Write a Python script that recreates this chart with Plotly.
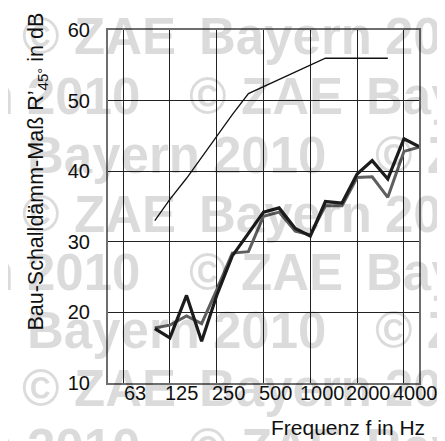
import math
import plotly.graph_objects as go

# third-octave band centre frequencies (Hz)
bands = [100, 125, 160, 200, 250, 315, 400, 500, 630, 800, 1000, 1250,
         1600, 2000, 2500, 3150, 4000, 5000]
# reference curve (ISO 717-1), 100 .. 3150 Hz
ref_bands = [100, 125, 160, 200, 250, 315, 400, 500, 630, 800, 1000, 1250,
             1600, 2000, 2500, 3150]
ref_curve = [33, 36, 39, 42, 45, 48, 51, 52, 53, 54, 55, 56, 56, 56, 56, 56]
# measured curves (dB)
r_black = [17.7, 16.4, 22.4, 15.9, 22.4, 28.0, 31.2, 34.2, 34.8, 31.9, 30.8,
           35.7, 35.5, 39.6, 41.5, 38.9, 44.6, 43.5]
r_gray = [17.8, 18.2, 19.5, 18.4, 23.2, 28.4, 28.6, 33.6, 34.2, 31.5, 31.0,
          35.1, 35.1, 39.1, 39.2, 36.3, 42.8, 43.4]

grid_freqs = [63, 125, 250, 500, 1000, 2000, 4000]
tick_labels = ["63", "125", "250", "500", "1000", "2000", "4000"]
y_ticks = [10, 20, 30, 40, 50, 60]

# page body has an 8 px margin; work in page pixels and convert
OFF = 8
W, H = 445 - OFF, 441 - OFF
PL, PR, PT, PB = 108, 419, 19, 383          # plot area in page pixels
L, R, T, B = PL - OFF, W - (PR - OFF), PT - OFF, H - (PB - OFF)
PW, PH = W - L - R, H - T - B


def px_x(px):
    return (px - PL) / PW


def px_y(py):
    return (PB - py) / PH


fig = go.Figure()
fig.add_trace(go.Scatter(x=ref_bands, y=ref_curve, mode="lines",
                         line=dict(color="#111111", width=1.3), showlegend=False))
fig.add_trace(go.Scatter(x=bands, y=r_gray, mode="lines",
                         line=dict(color="#5e5e5e", width=3), showlegend=False))
fig.add_trace(go.Scatter(x=bands, y=r_black, mode="lines",
                         line=dict(color="#1c1c1c", width=3.2), showlegend=False))

font_main = "Liberation Sans, Arial, sans-serif"
ann = []
# x tick labels (centred a third octave right of the grid line)
for f, lab in zip(grid_freqs, tick_labels):
    ann.append(dict(x=math.log10(f) + math.log10(2) / 3 - 0.025, y=0, xref="x", yref="paper",
                    text=lab, showarrow=False, xanchor="center", yanchor="top",
                    yshift=3, font=dict(family=font_main, size=20, color="#111111")))
# axis titles
ann.append(dict(x=px_x(38), y=px_y(165), xref="paper", yref="paper",
                text="Bau-Schalldämm-Maß R’<sub>45°</sub> in dB", textangle=-90,
                showarrow=False, xanchor="center", yanchor="middle",
                font=dict(family=font_main, size=21.5, color="#111111")))
ann.append(dict(x=px_x(427), y=px_y(429), xref="paper", yref="paper",
                text="Frequenz f in Hz", showarrow=False, xanchor="right", yanchor="middle",
                font=dict(family=font_main, size=21, color="#111111")))

# watermark "© ZAE Bayern 2010"
tokens = [("©", 0), ("ZAE", 52), ("Bayern", 177), ("2010", 363)]
period = 525
row_start = {"A": 20, "B": 187, "C": 373}
rows = [("A", 26), ("B", 88), ("C", 148), ("A", 209), ("B", 269), ("C", 329),
        ("A", 389), ("B", 449)]
for kind, ym in rows:
    for k in (-2, -1, 0, 1):
        base = row_start[kind] + k * period
        for tok, off in tokens:
            px = base + off
            if px < -220 or px > 445:
                continue
            ann.append(dict(x=px_x(px), y=px_y(ym), xref="paper", yref="paper",
                            text="<b>" + tok + "</b>", showarrow=False,
                            xanchor="left", yanchor="middle",
                            font=dict(family=font_main, size=51, color="rgba(0,0,0,0.14)")))

fig.update_layout(
    width=W, height=H, margin=dict(l=L, r=R, t=T, b=B),
    paper_bgcolor="white", plot_bgcolor="white",
    annotations=ann, showlegend=False,
    xaxis=dict(type="log", range=[math.log10(50), math.log10(5000)],
               tickvals=grid_freqs, showticklabels=False, ticks="",
               showgrid=True, gridcolor="#222222", gridwidth=1.2,
               showline=True, mirror=True, linecolor="#6e6e6e", linewidth=2,
               zeroline=False),
    yaxis=dict(range=[10, 60], tickvals=y_ticks, ticks="",
               ticklabelstandoff=12,
               tickfont=dict(family=font_main, size=20, color="#111111"),
               showgrid=True, gridcolor="#222222", gridwidth=1.2,
               showline=True, mirror=True, linecolor="#6e6e6e", linewidth=2,
               zeroline=False),
)

fig.write_html("out.html")
